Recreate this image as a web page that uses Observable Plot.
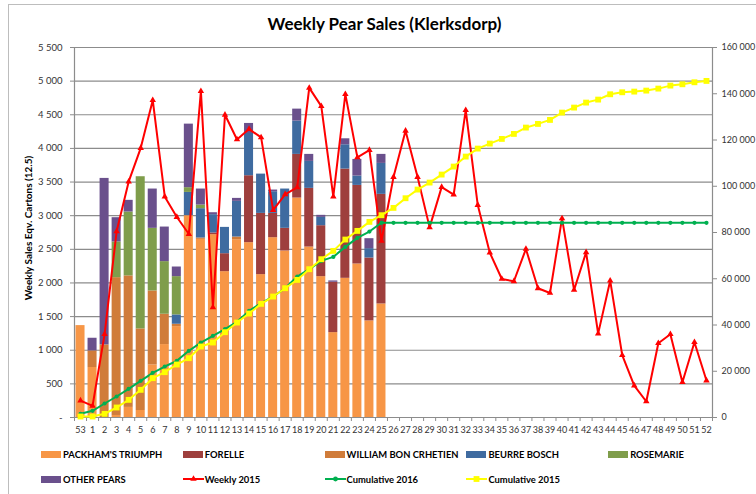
<!DOCTYPE html>
<html>
<head>
<meta charset="utf-8">
<script src="https://cdn.jsdelivr.net/npm/d3@7"></script>
<script src="https://cdn.jsdelivr.net/npm/@observablehq/plot@0.6"></script>
<style>
  body { margin: 0; background: #fff; font-family: Lato, "Open Sans", sans-serif; }
  #chart { position: relative; width: 756px; height: 494px; overflow: hidden; background: #fff; }
  #chart svg { position: absolute; left: 0; top: 0; }
  #border { position: absolute; left: 8px; top: 4px; width: 900px; height: 700px; border-left: 1.5px solid #bdbdbd; border-top: 1.5px solid #bdbdbd; }
  #title { position: absolute; left: 0; width: 769px; top: 15px; text-align: center; font-weight: bold; font-size: 17px; line-height: 1; color: #000; }
  #ylabel { position: absolute; left: 28px; top: 228px; transform: translate(-50%, -50%) rotate(-90deg); font-weight: bold; font-size: 10px; white-space: nowrap; color: #000; }
  .leg { position: absolute; height: 16px; display: flex; align-items: center; font-weight: bold; font-size: 9.4px; white-space: nowrap; color: #000; }
  .sw { width: 20px; height: 7px; margin-right: 2px; }
</style>
</head>
<body>
<div id="chart">
  <div id="border"></div>
  <div id="title">Weekly Pear Sales (Klerksdorp)</div>
  <div id="ylabel">Weekly Sales Eqv. Cartons (12.5)</div>
</div>
<script>
// ---- Data ----
const weeks = ["53","1","2","3","4","5","6","7","8","9","10","11","12","13","14","15","16","17","18","19","20","21","22","23","24","25","26","27","28","29","30","31","32","33","34","35","36","37","38","39","40","41","42","43","44","45","46","47","48","49","50","51","52"];
const barWeeks = ["53","1","2","3","4","5","6","7","8","9","10","11","12","13","14","15","16","17","18","19","20","21","22","23","24","25"];

const varieties = ["PACKHAM'S TRIUMPH","FORELLE","WILLIAM BON CRHETIEN","BEURRE BOSCH","ROSEMARIE","OTHER PEARS"];
const varietyColors = ["#f79646","#9e3f3d","#d07c3a","#3f6ba0","#7f9d4b","#6a508c"];

const packham   = [1366,743,0,30,150,104,782,1084,1351,3000,2648,2718,2168,2643,2599,2124,2673,2475,3262,2534,2094,1262,2069,2282,1436,1688];
const forelle   = [0,0,0,0,0,0,0,0,0,0,0,25,267,0,995,910,361,337,649,872,757,748,1624,1168,935,1629];
const william   = [0,247,1079,2049,1955,1213,1099,451,35,0,20,0,0,40,0,0,0,0,0,0,0,0,0,0,0,0];
const bosch     = [0,0,0,0,0,0,0,0,139,346,436,272,391,530,628,584,322,584,495,401,124,0,361,139,139,460];
const rosemarie = [0,0,0,530,950,2262,931,782,569,70,54,0,0,0,0,0,0,0,0,0,0,0,0,0,0,0];
const other     = [0,188,2475,361,173,0,584,514,143,945,238,29,0,44,149,0,25,0,178,104,30,20,89,247,148,134];

const weekly2015 = [252,173,1238,2767,3505,4005,4717,3282,2980,2727,4851,1638,4500,4133,4287,4163,3084,3317,3420,4900,4628,3282,4806,3866,3975,2624,3574,4262,3574,2826,3425,3312,4569,3158,2450,2059,2025,2505,1921,1851,2960,1896,2455,1247,2034,926,475,238,1104,1238,525,1119,549];
const cum2016 = [1585,2882,6052,9079,12393,15851,19309,22047,24497,28820,32423,35305,38187,41357,46112,49426,52308,55911,60954,64125,67727,69456,73779,77670,80408,84200,84200,84200,84200,84200,84200,84200,84200,84200,84200,84200,84200,84200,84200,84200,84200,84200,84200,84200,84200,84200,84200,84200,84200,84200,84200,84200,84200];
const cum2015 = [432,432,1585,4323,7637,11960,17004,19598,22912,25650,30693,32423,36890,41069,44960,49138,52308,55911,59514,64125,68448,72050,76950,80697,84588,87470,90640,94818,98565,101591,105050,108507,112830,116289,118450,120468,122629,125367,126952,128681,131852,134013,136175,137472,139777,140642,140930,141362,142227,143524,144100,144965,145541];

const leftTicks  = [0,500,1000,1500,2000,2500,3000,3500,4000,4500,5000,5500];
const rightTicks = [0,20000,40000,60000,80000,100000,120000,140000,160000];

const lineSeries = [
  {label: "Weekly 2015", color: "#ff0000", symbol: "triangle"},
  {label: "Cumulative 2016", color: "#00b050", symbol: "circle"},
  {label: "Cumulative 2015", color: "#ffff00", symbol: "square"}
];

// ---- Build tables ----
const barSeries = [packham, forelle, william, bosch, rosemarie, other];
const barRows = [];
barWeeks.forEach((w, i) => {
  varieties.forEach((v, j) => {
    const val = barSeries[j][i];
    if (val > 0) barRows.push({week: w, variety: v, value: val});
  });
});
const k = 5500 / 160000; // right axis -> left axis units
const lineRows = weeks.map((w, i) => ({week: w, weekly: weekly2015[i], c16: cum2016[i] * k, c15: cum2015[i] * k}));

const group = d3.formatLocale({decimal: ".", thousands: " ", grouping: [3], currency: ["", ""]}).format(",d");
const fmtLeft = d => d === 0 ? "-" : group(d);
const fmtRight = d => group(Math.round(d));

const W = 756, H = 494, mL = 74, mR = 44, mT = 47, mB = 77;
const step = (W - mL - mR) / weeks.length;
const gray = "#8c8c8c";

const plot = Plot.plot({
  width: W, height: H,
  marginLeft: mL, marginRight: mR, marginTop: mT, marginBottom: mB,
  style: {fontFamily: "Lato, sans-serif", fontSize: "10px", color: "#333", background: "transparent"},
  x: {type: "band", domain: weeks, paddingInner: 0.25, paddingOuter: 0.125, round: false, label: null},
  y: {domain: [0, 5500], label: null},
  color: {domain: varieties, range: varietyColors},
  marks: [
    Plot.gridY(leftTicks.slice(1), {stroke: gray, strokeOpacity: 1, strokeWidth: 1.2}),
    Plot.barY(barRows, {x: "week", y: "value", fill: "variety"}),
    Plot.ruleY([0], {stroke: gray, strokeWidth: 1.2}),
    Plot.frame({anchor: "left", stroke: gray, strokeWidth: 1.2}),
    Plot.frame({anchor: "right", stroke: gray, strokeWidth: 1.2}),
    Plot.axisY(leftTicks, {anchor: "left", tickSize: 4, tickPadding: 8, tickFormat: fmtLeft, stroke: gray, fill: "#333", fontSize: 9.5, label: null}),
    Plot.axisY(rightTicks.map(v => v * k), {anchor: "right", tickSize: 4, tickPadding: 5, tickFormat: d => fmtRight(d / k), stroke: gray, fill: "#333", fontSize: 9, label: null}),
    Plot.axisX({tickSize: 4, tickPadding: 0, dx: step / 2, tickFormat: () => "", stroke: gray, label: null}),
    Plot.axisX([weeks[0]], {tickSize: 4, tickPadding: 0, dx: -step / 2, tickFormat: () => "", stroke: gray, label: null}),
    Plot.axisX({tickSize: 0, tickPadding: 9, fill: "#333", fontSize: 9, label: null}),
    Plot.line(lineRows, {x: "week", y: "weekly", stroke: lineSeries[0].color, strokeWidth: 2}),
    Plot.dot(lineRows, {x: "week", y: "weekly", symbol: "triangle", fill: lineSeries[0].color, r: 2.4}),
    Plot.line(lineRows, {x: "week", y: "c16", stroke: lineSeries[1].color, strokeWidth: 2}),
    Plot.dot(lineRows, {x: "week", y: "c16", symbol: "circle", fill: lineSeries[1].color, r: 2.1}),
    Plot.line(lineRows, {x: "week", y: "c15", stroke: lineSeries[2].color, strokeWidth: 2}),
    Plot.dot(lineRows, {x: "week", y: "c15", symbol: "square", fill: lineSeries[2].color, r: 3.3})
  ]
});
const chart = document.getElementById("chart");
chart.insertBefore(plot, chart.firstChild.nextSibling);

// ---- Legend ----
const legendItems = varieties.map((v, i) => ({label: v, kind: "bar", color: varietyColors[i]}))
  .concat(lineSeries.map(s => ({label: s.label, kind: "line", color: s.color, symbol: s.symbol})));
legendItems.forEach((it, i) => {
  const col = i % 5, row = Math.floor(i / 5);
  const el = document.createElement("div");
  el.className = "leg";
  el.style.left = (41 + col * 141.8) + "px";
  el.style.top = (454 + row * 25 - 8) + "px";
  if (it.kind === "bar") {
    const sw = document.createElement("div");
    sw.className = "sw";
    sw.style.background = it.color;
    el.appendChild(sw);
  } else {
    const ns = "http://www.w3.org/2000/svg";
    const svg = document.createElementNS(ns, "svg");
    svg.setAttribute("width", 21); svg.setAttribute("height", 10);
    svg.style.marginRight = "1px";
    svg.style.position = "static";
    const ln = document.createElementNS(ns, "line");
    ln.setAttribute("x1", 0); ln.setAttribute("x2", 21); ln.setAttribute("y1", 5); ln.setAttribute("y2", 5);
    ln.setAttribute("stroke", it.color); ln.setAttribute("stroke-width", 2);
    svg.appendChild(ln);
    const sym = d3.symbol({triangle: d3.symbolTriangle, circle: d3.symbolCircle, square: d3.symbolSquare}[it.symbol], it.symbol === "square" ? 34 : 18)();
    const p = document.createElementNS(ns, "path");
    p.setAttribute("d", sym); p.setAttribute("transform", "translate(10.5,5)"); p.setAttribute("fill", it.color);
    svg.appendChild(p);
    el.appendChild(svg);
  }
  const t = document.createElement("span");
  t.textContent = it.label;
  el.appendChild(t);
  chart.appendChild(el);
});
</script>
</body>
</html>
